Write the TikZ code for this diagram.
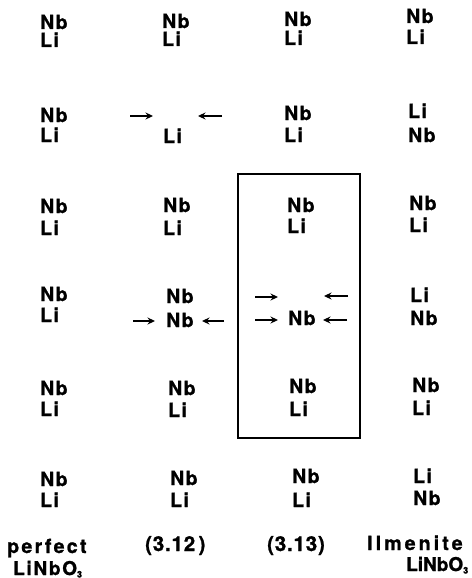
\documentclass[tikz,border=0pt]{standalone}
\usepackage{fontspec}
\setmainfont{TeX Gyre Heros}
\newfontfamily\atomfont{TeX Gyre Heros}[LetterSpace=7,FakeBold=1.2]
\newfontfamily\labfont{TeX Gyre Heros}[LetterSpace=12,FakeBold=1.2]
\newfontfamily\numfont{TeX Gyre Heros}[LetterSpace=4,FakeBold=1.2]
\newfontfamily\ilmfont{TeX Gyre Heros}[LetterSpace=16,FakeBold=1.2]
\newfontfamily\formfont{TeX Gyre Heros}[LetterSpace=9,FakeBold=1.2]
\newfontfamily\tightfont{TeX Gyre Heros}[FakeBold=1.2]
\usetikzlibrary{arrows.meta}
\tikzset{
  atom/.style={anchor=base west, inner sep=0pt, font=\atomfont\bfseries\fontsize{19.5}{21}\selectfont},
  lab/.style={anchor=base west, inner sep=0pt, font=\labfont\bfseries\fontsize{19.5}{21}\selectfont},
  push/.style={-{Stealth[length=7.5pt,width=7pt]}, line width=2pt},
  cell/.style={line width=1.2pt}
}
\newcommand{\subthree}{{\fontsize{9}{9}\selectfont\raisebox{-2.5pt}{3}}}
\begin{document}
\begin{tikzpicture}[x=1pt,y=-1pt]
\useasboundingbox (0,0) rectangle (471,578);
% column 1: perfect LiNbO3
\node[atom] (a1n) at (40,29) {Nb};  \node[atom] (a1l) at (40,47) {Li};
\node[atom] (a2n) at (40,122) {Nb}; \node[atom] (a2l) at (40,142) {Li};
\node[atom] (a3n) at (40,213) {Nb}; \node[atom] (a3l) at (40,235) {Li};
\node[atom] (a4n) at (40,301) {Nb}; \node[atom] (a4l) at (40,322) {Li};
\node[atom] (a5n) at (40,395) {Nb}; \node[atom] (a5l) at (40,416) {Li};
\node[atom] (a6n) at (40,486) {Nb}; \node[atom] (a6l) at (40,507) {Li};
% column 2: (3.12)
\node[atom] (b1n) at (162,28) {Nb};  \node[atom] (b1l) at (162,46) {Li};
\node[atom] (b2l) at (163,143) {Li};
\node[atom] (b3n) at (163,212) {Nb}; \node[atom] (b3l) at (163,235) {Li};
\node[atom] (b4n) at (166,303) {Nb}; \node[atom] (b4m) at (166,327) {Nb};
\node[atom] (b5n) at (168,395) {Nb}; \node[atom] (b5l) at (168,417) {Li};
\node[atom] (b6n) at (170,485) {Nb}; \node[atom] (b6l) at (170,507) {Li};
\coordinate (b2a) at (130,116); \coordinate (b2b) at (153,116);
\coordinate (b2c) at (222,116); \coordinate (b2d) at (198,116);
\coordinate (b4a) at (133,321); \coordinate (b4b) at (155,321);
\coordinate (b4c) at (224,321); \coordinate (b4d) at (202,321);
\draw[push] (b2a) -- (b2b);
\draw[push] (b2c) -- (b2d);
\draw[push] (b4a) -- (b4b);
\draw[push] (b4c) -- (b4d);
% column 3: (3.13)
\node[atom] (c1n) at (284,26) {Nb};  \node[atom] (c1l) at (284,45) {Li};
\node[atom] (c2n) at (284,120) {Nb}; \node[atom] (c2l) at (284,142) {Li};
\node[atom] (c3n) at (287,212) {Nb}; \node[atom] (c3l) at (287,233) {Li};
\node[atom] (c4n) at (288,325) {Nb};
\node[atom] (c5n) at (289,393) {Nb}; \node[atom] (c5l) at (289,416) {Li};
\node[atom] (c6n) at (292,483) {Nb}; \node[atom] (c6l) at (292,507) {Li};
\coordinate (c4a) at (255,297); \coordinate (c4b) at (278,297);
\coordinate (c4c) at (348,296); \coordinate (c4d) at (324,296);
\coordinate (c4e) at (255,320); \coordinate (c4f) at (278,320);
\coordinate (c4g) at (347,320); \coordinate (c4h) at (323,320);
\draw[push] (c4a) -- (c4b);
\draw[push] (c4c) -- (c4d);
\draw[push] (c4e) -- (c4f);
\draw[push] (c4g) -- (c4h);
\coordinate (boxtl) at (238,174); \coordinate (boxbr) at (360,438);
\draw[cell] (boxtl) rectangle (boxbr);
% column 4: Ilmenite LiNbO3
\node[atom] (d1n) at (406,23) {Nb};  \node[atom] (d1l) at (406,44) {Li};
\node[atom] (d2l) at (408,118) {Li}; \node[atom] (d2n) at (408,142) {Nb};
\node[atom] (d3n) at (409,210) {Nb}; \node[atom] (d3l) at (409,232) {Li};
\node[atom] (d4l) at (410,302) {Li}; \node[atom] (d4n) at (410,325) {Nb};
\node[atom] (d5n) at (412,392) {Nb}; \node[atom] (d5l) at (412,415) {Li};
\node[atom] (d6l) at (413,483) {Li}; \node[atom] (d6n) at (413,505) {Nb};
% labels
\node[lab] (l1a) at (7,553) {perfect};
\node[lab, font=\formfont\bfseries\fontsize{19}{21}\selectfont] (l1b) at (13,575) {LiNbO\subthree};
\node[lab, font=\numfont\bfseries\fontsize{20.5}{22}\selectfont] (l2) at (145,551) {(3.12\,)};
\node[lab, font=\numfont\bfseries\fontsize{20.5}{22}\selectfont] (l3) at (267,551) {(3.13)};
\node[lab, font=\ilmfont\bfseries\fontsize{19.5}{21}\selectfont] (l4a) at (367,550) {Ilmenite};
\node[lab, font=\tightfont\bfseries\fontsize{19}{21}\selectfont] (l4b) at (406,571) {LiNbO\subthree};
\end{tikzpicture}
\end{document}
